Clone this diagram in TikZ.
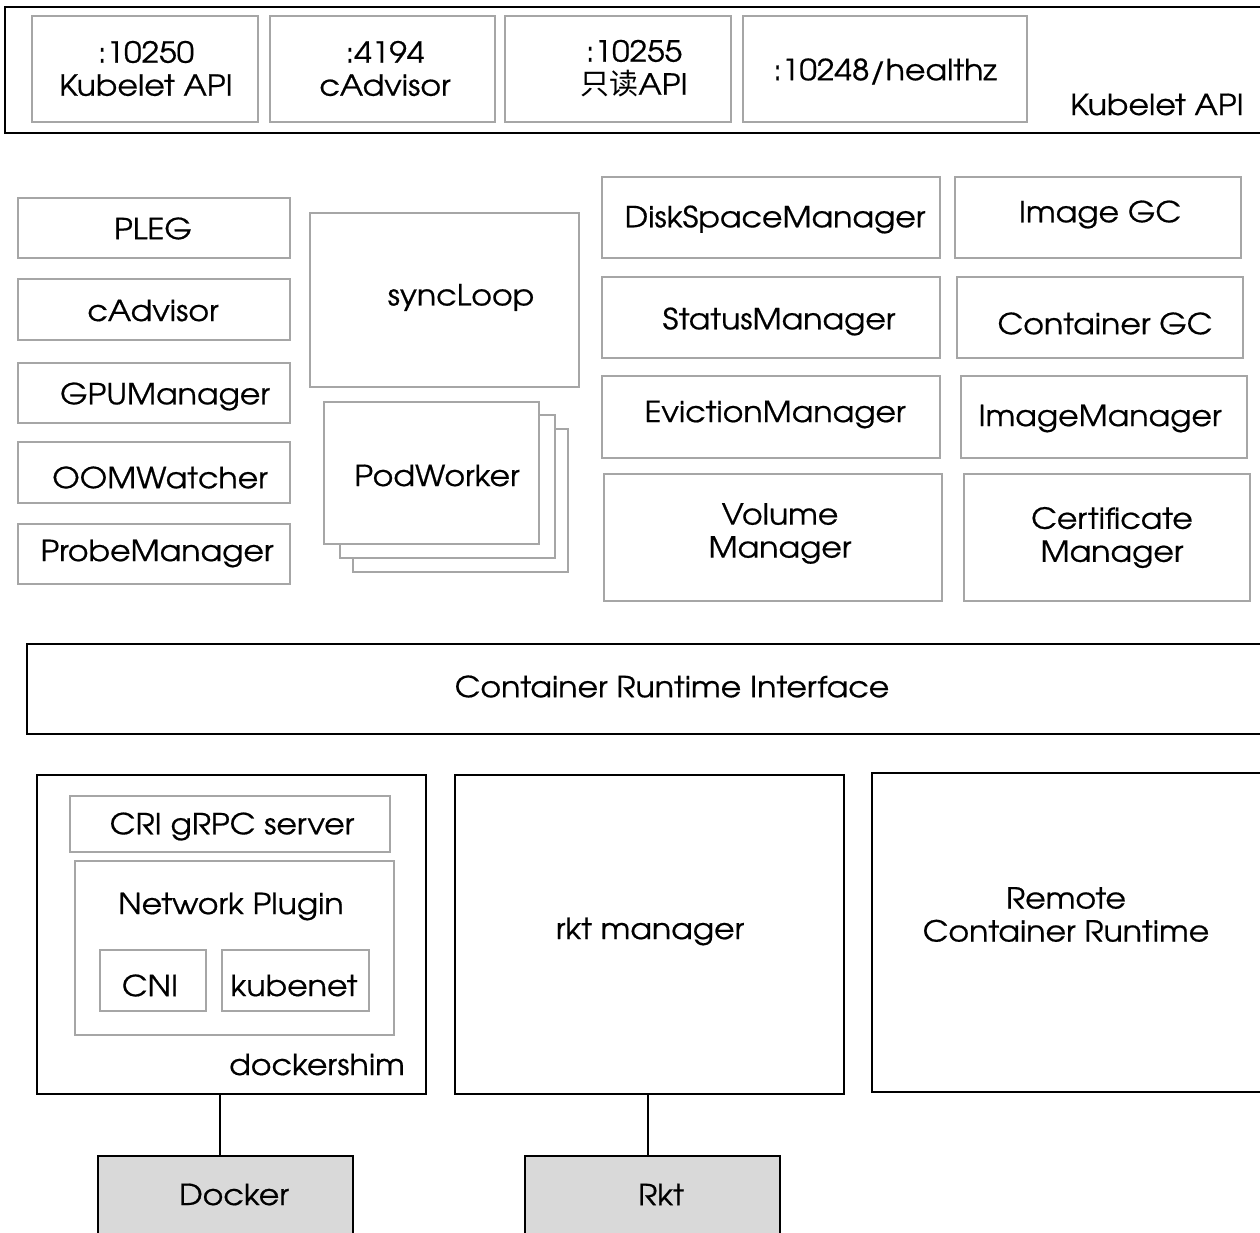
\documentclass[tikz,border=0pt]{standalone}
\usepackage{fontspec}
\setmainfont{TeX Gyre Adventor}[FakeStretch=1.09,FakeBold=0.6]
\newfontfamily\cjk{Noto Sans CJK SC}
\usetikzlibrary{positioning}
\definecolor{gline}{HTML}{A6A6A6}
\definecolor{rtfill}{HTML}{D9D9D9}
\tikzset{
  gbox/.style={draw=gline, line width=2pt, fill=white, inner sep=0pt, outer sep=0pt},
  kbox/.style={draw=black, line width=2pt, fill=white, inner sep=0pt, outer sep=0pt},
  rbox/.style={draw=black, line width=2pt, fill=rtfill, inner sep=0pt, outer sep=0pt},
  txt/.style={inner sep=0pt, align=center, yshift=-2.5pt, font=\fontsize{29}{33}\selectfont},
  link/.style={draw=black, line width=1.5pt}
}
% \bx{name}{style}{x1}{y1}{x2}{y2}
\newcommand\bx[6]{\node[#2, minimum width={(#5)-(#3)}, minimum height={(#6)-(#4)}] (#1) at ({((#3)+(#5))/2},{((#4)+(#6))/2}) {};}
\begin{document}
\begin{tikzpicture}[x=1pt,y=-1pt]
\useasboundingbox (0,0) rectangle (1260,1233);
% ---- Kubelet API bar
\bx{api}{kbox}{5}{7}{1266}{133}
\bx{p1}{gbox}{32}{16}{258}{122}
\bx{p2}{gbox}{270}{16}{495}{122}
\bx{p3}{gbox}{505}{16}{731}{122}
\bx{p4}{gbox}{743}{16}{1027}{122}
\node[txt] (p1t) at (146,66) {:10250\\Kubelet API};
\node[txt] (p2t) at (385,66) {:4194\\cAdvisor};
\node[txt] (p3t) at (634,66) {:10255\\{\cjk 只读}API};
\node[txt] (p4t) at (885,69) {:10248/healthz};
\node[txt] (apit) at (1157,102) {Kubelet API};
% ---- left column
\bx{pleg}{gbox}{18}{198}{290}{258}
\bx{cadv}{gbox}{18}{279}{290}{340}
\bx{gpu}{gbox}{18}{363}{290}{423}
\bx{oom}{gbox}{18}{442}{290}{503}
\bx{probe}{gbox}{18}{524}{290}{584}
\node[txt] (plegt) at (153,226) {PLEG};
\node[txt] (cadvt) at (153,308) {cAdvisor};
\node[txt] (gput) at (165,394) {GPUManager};
\node[txt] (oomt) at (160,475) {OOMWatcher};
\node[txt] (probet) at (157,551) {ProbeManager};
% ---- syncLoop and PodWorker
\bx{sync}{gbox}{310}{213}{579}{387}
\node[txt] (synct) at (461,295) {syncLoop};
\bx{pw3}{gbox}{353}{429}{568}{572}
\bx{pw2}{gbox}{340}{415}{555}{558}
\bx{pw1}{gbox}{324}{402}{539}{544}
\node[txt] (pwt) at (437,473) {PodWorker};
% ---- managers
\bx{disk}{gbox}{602}{177}{940}{258}
\bx{igc}{gbox}{955}{177}{1241}{258}
\bx{stat}{gbox}{602}{277}{940}{358}
\bx{cgc}{gbox}{957}{277}{1243}{358}
\bx{evic}{gbox}{602}{376}{940}{458}
\bx{imgm}{gbox}{961}{376}{1247}{458}
\bx{vol}{gbox}{604}{474}{942}{601}
\bx{cert}{gbox}{964}{474}{1250}{601}
\node[txt] (diskt) at (775,217) {DiskSpaceManager};
\node[txt] (igct) at (1100,212) {Image GC};
\node[txt] (statt) at (779,319) {StatusManager};
\node[txt] (cgct) at (1105,321) {Container GC};
\node[txt] (evict) at (775,412) {EvictionManager};
\node[txt] (imgmt) at (1100,416) {ImageManager};
\node[txt] (volt) at (780,531) {Volume\\Manager};
\node[txt] (certt) at (1112,535) {Certificate\\Manager};
% ---- CRI
\bx{cri}{kbox}{27}{644}{1266}{734}
\node[txt] (crit) at (672,684) {Container Runtime Interface};
% ---- runtimes
\bx{shim}{kbox}{37}{775}{426}{1094}
\bx{grpc}{gbox}{70}{796}{390}{852}
\bx{net}{gbox}{75}{861}{394}{1035}
\bx{cni}{gbox}{100}{950}{206}{1011}
\bx{kube}{gbox}{222}{950}{369}{1011}
\node[txt] (grpct) at (232,824) {CRI gRPC server};
\node[txt] (nett) at (231,904) {Network Plugin};
\node[txt] (cnit) at (150,983) {CNI};
\node[txt] (kubet) at (294,983) {kubenet};
\node[txt] (shimt) at (317,1062) {dockershim};
\bx{rkm}{kbox}{455}{775}{844}{1094}
\node[txt] (rkmt) at (650,929) {rkt manager};
\bx{remote}{kbox}{872}{773}{1266}{1092}
\node[txt] (remotet) at (1066,912) {Remote\\Container Runtime};
\bx{docker}{rbox}{98}{1156}{353}{1245}
\bx{rkt}{rbox}{525}{1156}{780}{1245}
\node[txt] (dockert) at (234,1192) {Docker};
\node[txt] (rktt) at (661,1192) {Rkt};
\coordinate (shimb) at (220,1094);
\coordinate (dockertop) at (220,1156);
\coordinate (rkmb) at (648,1094);
\coordinate (rkttop) at (648,1156);
\draw[link] (shimb) -- (dockertop);
\draw[link] (rkmb) -- (rkttop);
\end{tikzpicture}
\end{document}
